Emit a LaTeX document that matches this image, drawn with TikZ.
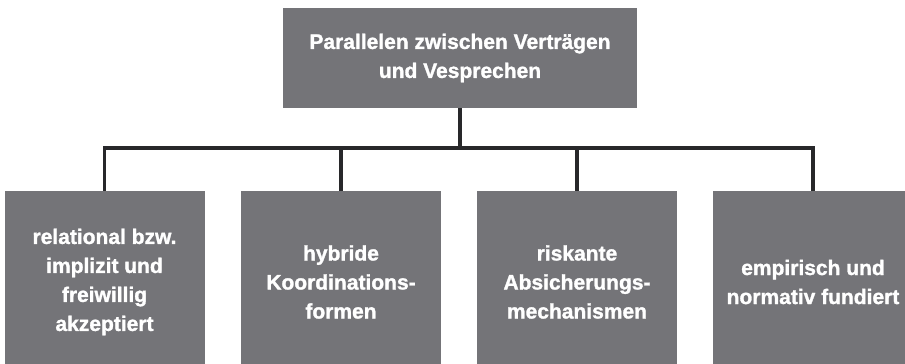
\documentclass[tikz,border=0pt]{standalone}
\usepackage{fontspec}
\setmainfont{Liberation Sans}
\newfontfamily\boxfont{Liberation Sans Bold}[FakeBold=1.4]
\definecolor{boxgrey}{RGB}{116,116,120}
\definecolor{linegrey}{RGB}{40,40,42}
\begin{document}
\begin{tikzpicture}[x=1pt,y=-1pt,
  greybox/.style={fill=boxgrey, draw=none, text=white, inner sep=0pt,
    font=\boxfont\fontsize{21}{29}\selectfont, align=center},
  topbox/.style={greybox, minimum width=354pt, minimum height=100pt},
  subbox/.style={greybox, minimum width=200pt, minimum height=182pt},
  conn/.style={draw=linegrey, line width=3.2pt}]
\clip (0,0) rectangle (905,364);
\fill[white] (0,0) rectangle (905,364);
\node[topbox] (top) at (460,58) {Parallelen zwischen Verträgen\\und Vesprechen};
\node[subbox] (b1) at (104.5,282) {relational bzw.\\implizit und\\freiwillig\\akzeptiert};
\node[subbox] (b2) at (341,282) {hybride\\Koordinations-\\formen};
\node[subbox] (b3) at (577,282) {riskante\\Absicherungs-\\mechanismen};
\node[subbox] (b4) at (813,282) {empirisch und\\normativ fundiert};
\coordinate (bar) at (460,148);
\draw[conn] (top.south) -- (bar);
\draw[conn] (b1.north) |- (bar);
\draw[conn] (b4.north) |- (bar);
\draw[conn] (b2.north) -- (b2.north |- bar);
\draw[conn] (b3.north) -- (b3.north |- bar);
\end{tikzpicture}
\end{document}
